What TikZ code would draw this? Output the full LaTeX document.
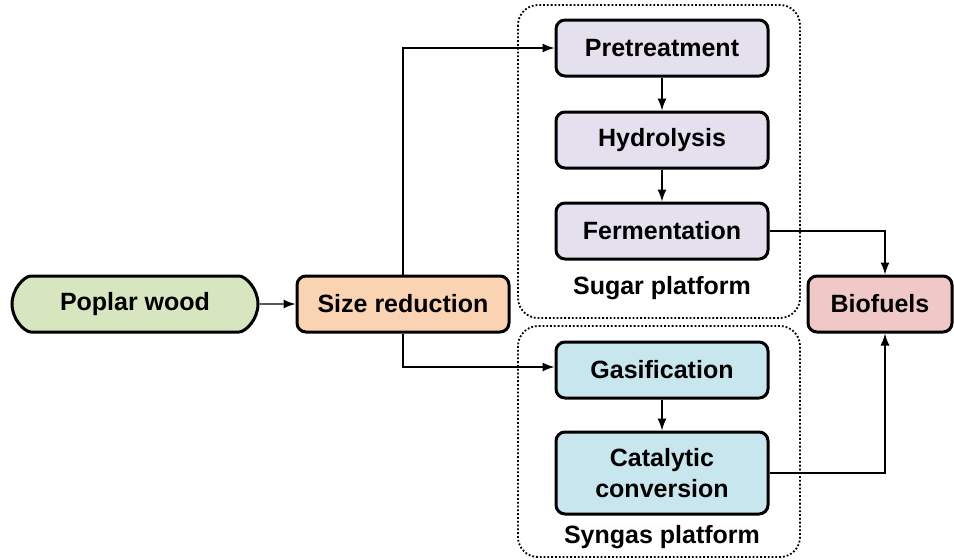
\documentclass[tikz,border=0pt]{standalone}
\usepackage{fontspec}
\setmainfont{Liberation Sans}
\usetikzlibrary{arrows.meta,shapes.misc}
\definecolor{cgreen}{RGB}{216,230,192}
\definecolor{corange}{RGB}{250,212,178}
\definecolor{clav}{RGB}{228,224,238}
\definecolor{cpink}{RGB}{240,200,200}
\definecolor{ccyan}{RGB}{200,230,238}
\begin{document}
\begin{tikzpicture}[x=1pt,y=-1pt,
  box/.style={draw,line width=3pt,rounded corners=9pt,minimum width=212pt,minimum height=56pt,inner sep=0pt,align=center,font=\fontsize{25}{31}\selectfont\bfseries},
  conn/.style={line width=1.4pt,-{Latex[length=12pt,width=9pt]}},
  grp/.style={line width=1.8pt,dotted,rounded corners=20pt},
  lbl/.style={font=\fontsize{25}{30}\selectfont\bfseries}]
\useasboundingbox (0,0) rectangle (954,560);
\draw[grp] (518,5) rectangle (800,318);
\draw[grp] (518,326) rectangle (800,557);
\node[box,rounded rectangle,fill=cgreen,minimum width=246pt] (pw) at (135,304) {Poplar wood};
\node[box,fill=corange] (sr) at (403,304) {Size reduction};
\node[box,fill=clav] (pt) at (662,48) {Pretreatment};
\node[box,fill=clav] (hy) at (662,140) {Hydrolysis};
\node[box,fill=clav] (fe) at (662,231) {Fermentation};
\node[lbl] (sp) at (662,288) {Sugar platform};
\node[box,fill=ccyan] (ga) at (662,370) {Gasification};
\node[box,fill=ccyan,minimum height=82pt] (cc) at (662,473) {Catalytic\\conversion};
\node[lbl] (syp) at (662,537) {Syngas platform};
\node[box,fill=cpink,minimum width=144pt] (bf) at (880,304) {Biofuels};
\draw[conn] (pw) -- (sr);
\draw[conn] (sr.north) |- (pt.west);
\draw[conn] (sr.south) |- ([yshift=3pt]ga.west);
\draw[conn] (pt) -- (hy);
\draw[conn] (hy) -- (fe);
\draw[conn] (ga) -- (cc);
\draw[conn] (fe.east) -| ([xshift=5pt]bf.north);
\draw[conn] (cc.east) -| ([xshift=5pt]bf.south);
\end{tikzpicture}
\end{document}
